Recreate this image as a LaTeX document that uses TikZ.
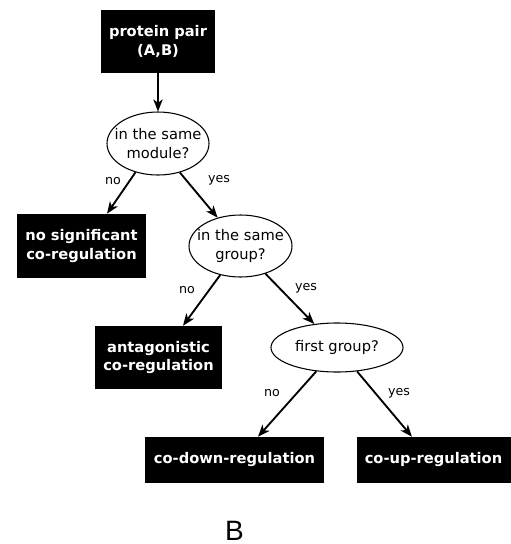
\documentclass[tikz,border=0pt]{standalone}
\usepackage{fontspec}
\setmainfont{DejaVu Sans}
\newfontfamily\panelfont{Liberation Sans}
\usetikzlibrary{arrows.meta,calc,shapes.geometric}
\tikzset{
  outbox/.style={fill=black, text=white, font=\fontsize{11}{14}\selectfont\bfseries, align=center, inner sep=0pt},
  question/.style={draw=black, line width=0.8pt, ellipse, font=\fontsize{11}{14}\selectfont, align=center, inner xsep=-12pt, inner ysep=0pt},
  conn/.style={line width=1.4pt, -{Stealth[length=9pt,width=7pt,inset=2.5pt]}},
  lab/.style={font=\fontsize{9.5}{11}\selectfont, inner sep=0pt}
}
\begin{document}
\begin{tikzpicture}[x=0.75pt,y=-0.75pt]
\useasboundingbox (0,0) rectangle (511,544);
\node[outbox, minimum width=85.5pt, minimum height=47.25pt] (b1) at (158,41.5) {protein pair\\(A,B)};
\node[question, minimum width=76.5pt, minimum height=47.25pt] (e1) at (158,143.5) {in the same\\module?};
\node[outbox, minimum width=96.75pt, minimum height=48pt] (b2) at (81.5,246) {no significant\\co-regulation};
\node[question, minimum width=77.25pt, minimum height=46.5pt] (e2) at (240.5,246) {in the same\\group?};
\node[outbox, minimum width=95.25pt, minimum height=47.25pt] (b3) at (158.5,357.5) {antagonistic\\co-regulation};
\node[question, minimum width=99pt, minimum height=36.75pt] (e3) at (337,347.5) {first group?};
\node[outbox, minimum width=134.25pt, minimum height=34.5pt] (b4) at (234.5,460) {co-down-regulation};
\node[outbox, minimum width=115.5pt, minimum height=34.5pt] (b5) at (433.5,460) {co-up-regulation};
\node[lab] (n1) at (113,181) {no};
\node[lab] (y1) at (219,180) {yes};
\node[lab] (n2) at (187,290) {no};
\node[lab] (y2) at (306,288) {yes};
\node[lab] (n3) at (272,393) {no};
\node[lab] (y3) at (399,393) {yes};
\node[font=\panelfont\fontsize{21}{24}\selectfont, inner sep=0pt, anchor=base] (pB) at (234.5,540) {B};
\draw[conn] (b1.south) -- (e1.north);
\draw[conn] (e1.232) -- ($(b2.north)+(25.5,0)$);
\draw[conn] (e1.307) -- (e2.129);
\draw[conn] (e2.235) -- ($(b3.north)+(24.5,0)$);
\draw[conn] (e2.312) -- (e3.134);
\draw[conn] (e3.229) -- ($(b4.north)+(23.5,0)$);
\draw[conn] (e3.310) -- ($(b5.north)+(-21.5,0)$);
\end{tikzpicture}
\end{document}
